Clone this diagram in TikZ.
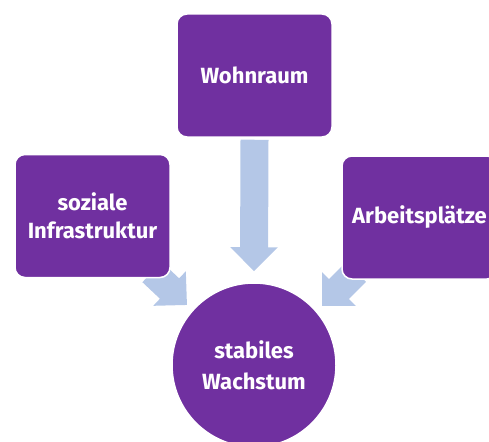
\documentclass[tikz,border=0pt]{standalone}
\usepackage{fontspec}
\setmainfont{Fira Sans}
\usetikzlibrary{arrows.meta,calc,backgrounds}
\definecolor{lila}{HTML}{7030A0}
\definecolor{hellblau}{HTML}{B4C7E7}
\begin{document}
\begin{tikzpicture}[x=1pt,y=-1pt,
  box/.style={fill=lila, draw=white, line width=1.5pt, rounded corners=10pt,
    minimum width=155pt, minimum height=123pt, text=white,
    font=\bfseries\fontsize{22}{28}\selectfont, align=center, inner sep=0pt},
  kreis/.style={circle, fill=lila, draw=white, line width=1.5pt, minimum size=164pt,
    text=white, font=\bfseries\fontsize{22}{31}\selectfont, align=center, inner sep=0pt},
  pfeil/.style={draw=hellblau, line width=28pt, -{Triangle[width=46pt,length=24pt]}}]
\useasboundingbox (0,0) rectangle (489,441);
\clip (0,0) rectangle (489,441);
\node[box] (w) at (254.5,75.5) {Wohnraum};
\node[box] (s) at (92.5,216) {soziale\\Infrastruktur};
\node[box] (a) at (419.5,217.5) {Arbeitsplätze};
\node[kreis] (c) at (254,365) {stabiles\\Wachstum};
\coordinate (p1s) at ($(w.south)+(0,2)$);
\coordinate (p1e) at ($(c.north)+(0,-11)$);
\coordinate (p2s) at (152,272);
\coordinate (p2e) at (187,305);
\coordinate (p3s) at (356,272);
\coordinate (p3e) at (322,306);
\begin{scope}[on background layer]
\draw[pfeil] (p1s) -- (p1e);
\draw[pfeil] (p2s) -- (p2e);
\draw[pfeil] (p3s) -- (p3e);
\end{scope}
\end{tikzpicture}
\end{document}
